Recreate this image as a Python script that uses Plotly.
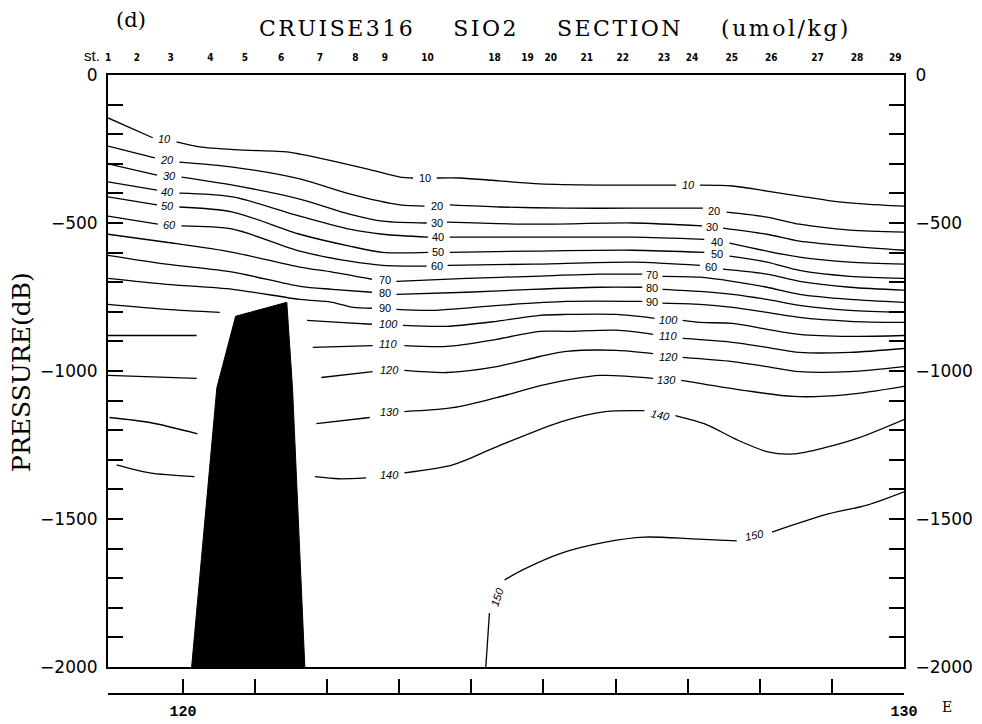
import plotly.graph_objects as go

# ---------------- data (longitude °E, pressure dB) ----------------
levels = [10, 20, 30, 40, 50, 60, 70, 80, 90, 100, 110, 120, 130, 140, 150]

c10_lon = [118.96, 119.58, None, 119.91, 120.23, 120.79, 121.44, 121.62, 122.07, 122.55, 123.01, 123.19, None,
           123.52, 123.84, 124.39, 124.95, 125.78, 126.84, None, 127.17, 127.62, 128.10, 128.55, 129.01, 129.48, 130.0]
c10_p = [-145, -212, None, -226, -243, -253, -260, -267, -290, -317, -345, -348, None,
         -348, -348, -358, -368, -372, -372, None, -372, -375, -392, -409, -426, -436, -443]

c20_lon = [118.96, 119.61, None, 119.95, 120.69, 121.62, 122.31, 123.01, 123.35, None,
           123.70, 124.39, 125.32, 126.24, 127.21, None, 127.54, 128.10, 128.55, 129.25, 130.0]
c20_p = [-240, -280, None, -294, -311, -351, -402, -439, -443, None,
         -439, -446, -450, -450, -450, None, -463, -480, -504, -524, -531]

c30_lon = [118.96, 119.64, None, 119.98, 120.69, 121.62, 122.31, 122.77, 123.38, None,
           123.66, 124.85, 126.24, 127.20, None, 127.49, 128.10, 128.55, 129.25, 130.0]
c30_p = [-300, -338, None, -345, -372, -419, -470, -494, -500, None,
         -497, -504, -500, -510, None, -517, -538, -561, -578, -592]

c40_lon = [118.96, 119.64, None, 119.95, 120.69, 121.62, 122.31, 122.77, 123.40, None,
           123.70, 124.85, 126.24, 127.23, None, 127.58, 128.10, 128.55, 129.25, 130.0]
c40_p = [-361, -389, None, -399, -412, -477, -521, -538, -548, None,
         -548, -548, -548, -555, None, -568, -595, -615, -632, -639]

c50_lon = [118.96, 119.64, None, 119.95, 120.69, 121.62, 122.31, 122.77, 123.40, None,
           123.70, 124.85, 126.24, 127.23, None, 127.58, 128.10, 128.55, 129.25, 130.0]
c50_p = [-412, -439, None, -446, -463, -538, -578, -599, -599, None,
         -599, -595, -592, -599, None, -612, -632, -660, -680, -687]

c60_lon = [118.96, 119.65, None, 119.98, 120.69, 121.62, 122.31, 122.77, 123.38, None,
           123.67, 124.85, 126.24, 127.17, None, 127.49, 128.10, 128.55, 129.25, 130.0]
c60_p = [-477, -504, None, -510, -521, -595, -629, -643, -646, None,
         -643, -639, -632, -643, None, -656, -673, -697, -717, -727]

c70_lon = [118.96, 119.77, 120.69, 121.62, 122.07, 122.62, None, 122.96, 123.93, 124.85, 125.78, 126.37, None,
           126.65, 127.17, 127.62, 128.10, 128.55, 129.25, 130.0]
c70_p = [-538, -565, -599, -649, -666, -690, None, -697, -687, -680, -673, -673, None,
         -680, -683, -697, -717, -741, -758, -768]

c80_lon = [118.96, 119.77, 120.69, 121.62, 122.07, 122.62, None, 122.96, 123.93, 124.85, 125.78, 126.37, None,
           126.65, 127.17, 127.62, 128.10, 128.55, 129.25, 130.0]
c80_p = [-609, -639, -666, -714, -724, -734, None, -741, -734, -724, -717, -717, None,
         -724, -731, -741, -758, -778, -795, -802]

c90_lon = [118.96, 119.77, 120.69, 121.62, 122.07, 122.36, 122.62, None, 122.96, 123.46, 124.39, 125.32, 126.37, None,
           126.65, 127.17, 127.62, 128.10, 128.55, 129.25, 130.0]
c90_p = [-687, -707, -724, -758, -768, -785, -788, None, -792, -795, -778, -765, -765, None,
         -771, -775, -785, -802, -819, -832, -836]

c100_lon = [118.96, 119.77, 120.51, None, 121.72, 122.17, 122.62, None, 123.05, 123.66, 124.35, 124.95, 125.32,
            126.01, 126.54, None, 126.93, 127.17, 127.62, 128.10, 128.55, 129.25, 130.0]
c100_p = [-775, -792, -802, None, -829, -836, -842, None, -846, -849, -832, -812, -809,
          -809, -822, None, -829, -836, -839, -859, -876, -883, -880]

c110_lon = [118.96, 120.19, None, 121.80, 122.63, None, 123.07, 123.66, 124.35, 124.95, 125.32, 126.01, 126.52, None,
            126.93, 127.62, 128.10, 128.55, 129.25, 130.0]
c110_p = [-880, -880, None, -920, -914, None, -914, -917, -893, -866, -866, -862, -876, None,
          -890, -903, -920, -937, -937, -924]

c120_lon = [118.96, 120.19, None, 121.92, 122.63, None, 123.07, 123.66, 124.35, 124.95, 125.32, 126.01, 126.52, None,
            126.93, 127.62, 128.10, 128.55, 129.25, 130.0]
c120_p = [-1015, -1025, None, -1022, -1002, None, -998, -1005, -985, -951, -934, -930, -941, None,
          -954, -968, -985, -1002, -1002, -985]

c130_lon = [118.98, 119.54, 120.20, None, 121.85, 122.59, None, 123.07, 123.74, 124.35, 125.02, 125.78, 126.52, None,
            126.91, 127.68, 128.47, 129.21, 130.0]
c130_p = [-1157, -1174, -1212, None, -1178, -1157, None, -1137, -1124, -1090, -1046, -1015, -1025, None,
          -1032, -1062, -1086, -1080, -1052]

c140_lon = [119.08, 119.54, 120.16, None, 121.83, 122.16, 122.54, None, 123.07, 123.74, 124.35, 125.25, 125.86, 126.40,
            None, 126.83, 127.26, 127.68, 128.11, 128.47, 128.90, 129.38, 130.0]
c140_p = [-1317, -1344, -1357, None, -1357, -1364, -1361, None, -1344, -1317, -1256, -1171, -1137, -1134,
          None, -1151, -1181, -1232, -1273, -1280, -1259, -1225, -1164]

c150_lon = [124.20, 124.25, None, 124.46, 124.71, 125.25, 125.86, 126.40, 127.07, 127.68, None, 128.17, 128.90, 129.50, 130.0]
c150_p = [-2000, -1818, None, -1706, -1672, -1615, -1578, -1561, -1567, -1574, None, -1544, -1486, -1452, -1408]

# contour labels
lab_text = ["10", "20", "30", "40", "50", "60",
            "10", "20", "30", "40", "50", "60", "70", "80", "90", "100", "110", "120", "130", "140",
            "10", "20", "30", "40", "50", "60", "70", "80", "90", "100", "110", "120", "130", "140",
            "150", "150"]
lab_lon = [119.75, 119.78, 119.81, 119.79, 119.79, 119.81,
           123.35, 123.52, 123.52, 123.53, 123.53, 123.52, 122.80, 122.80, 122.80, 122.85, 122.85, 122.87, 122.87, 122.87,
           127.01, 127.37, 127.34, 127.40, 127.40, 127.33, 126.50, 126.50, 126.50, 126.73, 126.73, 126.73, 126.71, 126.62,
           124.36, 127.93]
lab_p = [-216, -287, -341, -395, -443, -507,
         -348, -443, -500, -548, -599, -646, -693, -737, -788, -842, -910, -998, -1137, -1351,
         -372, -460, -514, -565, -605, -649, -676, -720, -768, -826, -883, -951, -1029, -1147,
         -1764, -1554]
lab_angle = [0, 0, 0, 0, 0, 0,
             0, 0, 0, 0, 0, 0, 0, 0, 0, 0, 0, 0, 0, 0,
             0, 0, 0, 0, 0, 0, 0, 0, 0, 0, 0, 0, 0, 12,
             -72, -12]
lab_italic = [1, 1, 1, 1, 1, 1,
              0, 0, 0, 0, 0, 0, 0, 0, 0, 1, 1, 1, 1, 1,
              1, 0, 0, 0, 0, 0, 0, 0, 0, 1, 1, 1, 1, 1,
              1, 1]

# seamount (bottom topography)
sm_lon = [120.12, 120.47, 120.73, 121.44, 121.52, 121.69]
sm_p = [-2000, -1056, -815, -768, -1062, -2000]

# station numbers along the top
st_lon = [118.96, 119.36, 119.83, 120.38, 120.86, 121.36, 121.90, 122.39, 122.80, 123.39,
          124.32, 124.78, 125.10, 125.60, 126.10, 126.67, 127.06, 127.61, 128.16, 128.80, 129.35, 129.88]
st_num = ["1", "2", "3", "4", "5", "6", "7", "8", "9", "10",
          "18", "19", "20", "21", "22", "23", "24", "25", "26", "27", "28", "29"]

lon_ticks = [118.96, 120, 121, 122, 123, 124, 125, 126, 127, 128, 129, 130]
lon_ticktext = ["", "<b>120</b>", "", "", "", "", "", "", "", "", "", "<b>130</b>"]

x_range = [118.96, 130.0]
p_range = [-2000, 0]

contours = [(c10_lon, c10_p), (c20_lon, c20_p), (c30_lon, c30_p), (c40_lon, c40_p), (c50_lon, c50_p),
            (c60_lon, c60_p), (c70_lon, c70_p), (c80_lon, c80_p), (c90_lon, c90_p), (c100_lon, c100_p),
            (c110_lon, c110_p), (c120_lon, c120_p), (c130_lon, c130_p), (c140_lon, c140_p), (c150_lon, c150_p)]

# ---------------- figure ----------------
fig = go.Figure()

for lev, (xs, ys) in zip(levels, contours):
    fig.add_trace(go.Scatter(x=xs, y=ys, mode="lines", name=str(lev),
                             line=dict(color="black", width=1.3, shape="spline", smoothing=0.8),
                             connectgaps=False, showlegend=False, hoverinfo="skip"))

fig.add_trace(go.Scatter(x=sm_lon, y=sm_p, mode="lines", fill="toself", fillcolor="black",
                         line=dict(color="black", width=1), showlegend=False, hoverinfo="skip"))

# invisible traces that carry the auxiliary axes
fig.add_trace(go.Scatter(x=st_lon, y=[0] * len(st_lon), xaxis="x3", yaxis="y", mode="markers",
                         marker=dict(opacity=0), showlegend=False, hoverinfo="skip"))
fig.add_trace(go.Scatter(x=lon_ticks, y=[-2000] * len(lon_ticks), xaxis="x2", yaxis="y", mode="markers",
                         marker=dict(opacity=0), showlegend=False, hoverinfo="skip"))
fig.add_trace(go.Scatter(x=x_range, y=p_range, xaxis="x", yaxis="y2", mode="markers",
                         marker=dict(opacity=0), showlegend=False, hoverinfo="skip"))

annotations = []
for t, x, y, a, it in zip(lab_text, lab_lon, lab_p, lab_angle, lab_italic):
    annotations.append(dict(x=x, y=y, xref="x", yref="y", text=("<i>%s</i>" % t) if it else t,
                            showarrow=False, textangle=a,
                            font=dict(family="Liberation Sans, Arial, sans-serif", size=11, color="black")))

serif = "DejaVu Serif, Liberation Serif, serif"
sp = "&nbsp;" * 4
annotations += [
    dict(text='<span style="letter-spacing:2.5px">CRUISE316' + sp + 'SIO2' + sp + 'SECTION' + sp + '(umol/kg)</span>',
         xref="paper", yref="paper",
         x=0.5616, y=1.0747, xanchor="center", yanchor="middle", showarrow=False,
         font=dict(family=serif, size=22, color="black")),
    dict(text="(d)", xref="paper", yref="paper", x=0.029, y=1.0874, xanchor="center", yanchor="middle",
         showarrow=False, font=dict(family=serif, size=21, color="black")),
    dict(text="st.", xref="paper", yref="paper", x=-0.008, y=1.031, xanchor="right", yanchor="middle",
         showarrow=False, font=dict(family="Liberation Sans, Arial, sans-serif", size=15, color="black")),
    dict(text="E", xref="paper", yref="paper", x=1.054, y=-0.004, xanchor="center", yanchor="middle",
         showarrow=False, font=dict(family=serif, size=14, color="black")),
    dict(text="PRESSURE(dB)", xref="paper", yref="paper", x=-0.108, y=0.528, xanchor="center", yanchor="middle",
         textangle=-90, showarrow=False, font=dict(family=serif, size=25, color="black")),
]

tickfont = dict(family="DejaVu Sans, Liberation Sans, sans-serif", size=17, color="black")

# the page body adds an 8 px offset, so the figure is 8 px smaller than the window
fig.update_layout(
    template="none",
    width=974, height=716,
    margin=dict(l=100, r=78, t=67, b=20, autoexpand=False),
    paper_bgcolor="white", plot_bgcolor="white",
    showlegend=False,
    annotations=annotations,
    xaxis=dict(range=x_range, showline=True, linecolor="black", linewidth=2, mirror=True, automargin=False,
               ticks="", showticklabels=False, showgrid=False, zeroline=False),
    xaxis2=dict(range=x_range, overlaying="x", anchor="free", position=0.0159, side="bottom", automargin=False,
                showline=True, linecolor="black", linewidth=2, ticks="inside", ticklen=14, tickwidth=2,
                tickcolor="black", tickmode="array", tickvals=lon_ticks, ticktext=lon_ticktext,
                tickfont=dict(family="Liberation Mono, DejaVu Sans Mono, monospace", size=15, color="black"),
                ticklabelstandoff=3, showgrid=False, zeroline=False),
    xaxis3=dict(range=x_range, overlaying="x", anchor="y", side="top", showline=False, ticks="", automargin=False,
                tickmode="array", tickvals=st_lon, ticktext=["<b>%s</b>" % s for s in st_num],
                tickfont=dict(family="Liberation Sans Narrow, DejaVu Sans Condensed, Liberation Sans, sans-serif",
                              size=10, color="black"),
                ticklabelstandoff=11, showgrid=False, zeroline=False),
    yaxis=dict(range=p_range, domain=[0.0588, 1], showline=True, linecolor="black", linewidth=2, automargin=False,
               ticks="inside", ticklen=15, tickwidth=2, tickcolor="black", tick0=0, dtick=500,
               minor=dict(ticks="inside", ticklen=15, tickwidth=2, tickcolor="black", dtick=100, showgrid=False),
               tickfont=tickfont, ticklabelstandoff=5, showgrid=False, zeroline=False),
    yaxis2=dict(range=p_range, overlaying="y", anchor="x", side="right", showline=True, linecolor="black",
                linewidth=2, ticks="inside", ticklen=15, tickwidth=2, tickcolor="black", tick0=0, dtick=500,
                automargin=False,
                minor=dict(ticks="inside", ticklen=15, tickwidth=2, tickcolor="black", dtick=100, showgrid=False),
                tickfont=tickfont, ticklabelstandoff=6, showgrid=False, zeroline=False),
)

fig.write_html("out.html")
